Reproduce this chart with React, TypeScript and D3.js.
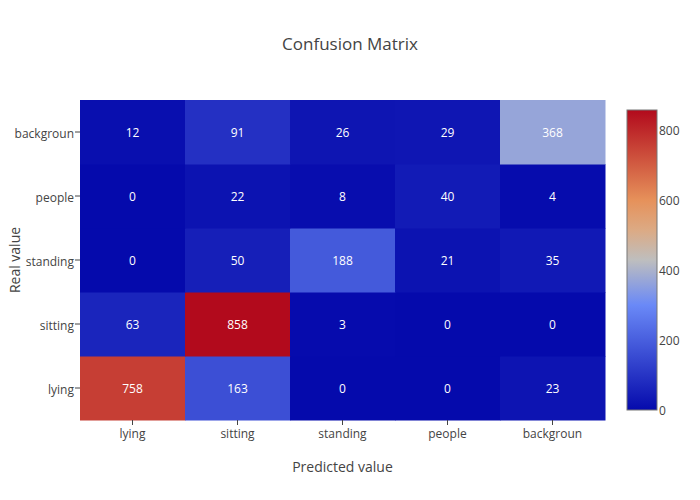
import React from "react";
import * as d3 from "d3";

const xCategories = ["lying", "sitting", "standing", "people", "backgroun"];
const yCategories = ["lying", "sitting", "standing", "people", "backgroun"];
const rowLying = [758, 163, 0, 0, 23];
const rowSitting = [63, 858, 3, 0, 0];
const rowStanding = [0, 50, 188, 21, 35];
const rowPeople = [0, 22, 8, 40, 4];
const rowBackground = [12, 91, 26, 29, 368];
const zRows = [rowLying, rowSitting, rowStanding, rowPeople, rowBackground];
const colorbarTicks = [0, 200, 400, 600, 800];

const colorStops: [number, string][] = [
  [0, "rgb(5,10,172)"],
  [0.35, "rgb(106,137,247)"],
  [0.5, "rgb(190,190,190)"],
  [0.6, "rgb(220,170,132)"],
  [0.7, "rgb(230,145,90)"],
  [1, "rgb(178,10,28)"],
];

const W = 700;
const H = 500;
const M = { left: 80, right: 605, top: 100, bottom: 420 };
const FONT = "'Open Sans', sans-serif";

export default function App() {
  const allZ = zRows.flat();
  const zMin = d3.min(allZ) as number;
  const zMax = d3.max(allZ) as number;

  const x = d3.scaleBand<string>().domain(xCategories).range([M.left, M.right]).padding(0);
  const y = d3.scaleBand<string>().domain(yCategories).range([M.bottom, M.top]).padding(0);

  const norm = d3.scaleLinear().domain([zMin, zMax]).range([0, 1]);
  const color = d3
    .scaleLinear<string>()
    .domain(colorStops.map((s) => s[0]))
    .range(colorStops.map((s) => s[1]))
    .interpolate(d3.interpolateRgb);

  const cb = { x: 627, w: 30, top: 110, bottom: 410 };
  const cbScale = d3.scaleLinear().domain([zMin, zMax]).range([cb.bottom, cb.top]);

  const cells: any[] = [];
  yCategories.forEach((yc, i) => {
    xCategories.forEach((xc, j) => {
      cells.push({ xc, yc, v: zRows[i][j] });
    });
  });

  return (
    <svg
      width={W}
      height={H}
      style={{ position: "absolute", left: 0, top: 0, background: "#fff" }}
      fontFamily={FONT}
    >
      <defs>
        <linearGradient id="cbgrad" x1="0" y1="1" x2="0" y2="0">
          {colorStops.map((s, i) => (
            <stop key={i} offset={`${s[0] * 100}%`} stopColor={s[1]} />
          ))}
        </linearGradient>
      </defs>
      <text x={350} y={50} textAnchor="middle" fontSize={17} fill="#444">
        Confusion Matrix
      </text>
      {cells.map((c, i) => (
        <rect
          key={i}
          x={x(c.xc)}
          y={y(c.yc)}
          width={x.bandwidth() + 0.5}
          height={y.bandwidth() + 0.5}
          fill={color(norm(c.v))}
        />
      ))}
      {cells.map((c, i) => (
        <text
          key={"t" + i}
          x={(x(c.xc) as number) + x.bandwidth() / 2}
          y={(y(c.yc) as number) + y.bandwidth() / 2}
          dy="0.38em"
          textAnchor="middle"
          fontSize={12}
          fill="#fff"
        >
          {c.v}
        </text>
      ))}
      {xCategories.map((xc) => {
        const cx = (x(xc) as number) + x.bandwidth() / 2;
        return (
          <g key={"xt" + xc}>
            <line x1={cx} x2={cx} y1={M.bottom} y2={M.bottom + 5} stroke="#444" strokeWidth={1} />
            <text x={cx} y={M.bottom + 18} textAnchor="middle" fontSize={12} fill="#444">
              {xc}
            </text>
          </g>
        );
      })}
      {yCategories.map((yc) => {
        const cy = (y(yc) as number) + y.bandwidth() / 2;
        return (
          <g key={"yt" + yc}>
            <line x1={M.left - 5} x2={M.left} y1={cy} y2={cy} stroke="#444" strokeWidth={1} />
            <text x={M.left - 6} y={cy} dy="0.5em" textAnchor="end" fontSize={12} fill="#444">
              {yc}
            </text>
          </g>
        );
      })}
      <text x={(M.left + M.right) / 2} y={472} textAnchor="middle" fontSize={14} fill="#444">
        Predicted value
      </text>
      <text
        transform={`translate(20,${(M.top + M.bottom) / 2}) rotate(-90)`}
        textAnchor="middle"
        fontSize={14}
        fill="#444"
      >
        Real value
      </text>
      <rect
        x={cb.x}
        y={cb.top}
        width={cb.w}
        height={cb.bottom - cb.top}
        fill="url(#cbgrad)"
        stroke="#777"
        strokeWidth={1}
      />
      {colorbarTicks.map((t) => (
        <text key={"cb" + t} x={cb.x + cb.w + 2} y={cbScale(t)} dy="0.4em" fontSize={12} fill="#444">
          {t}
        </text>
      ))}
    </svg>
  );
}
